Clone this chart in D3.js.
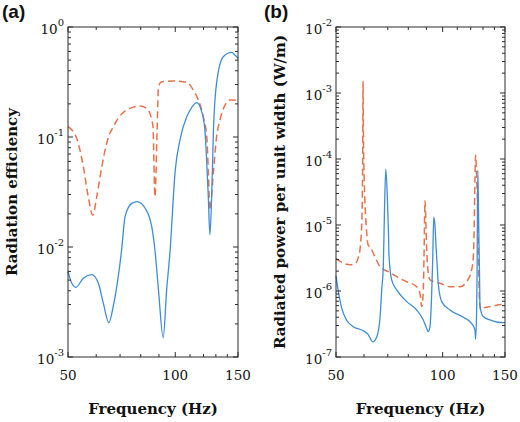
<!DOCTYPE html>
<html><head><meta charset="utf-8">
<script src="https://cdn.jsdelivr.net/npm/d3@7"></script>
<style>body{margin:0;background:#fff}</style>
</head><body>
<svg id="chart" width="520" height="422"></svg>
<script>
// ---- Data ----
const xTicks = [50, 100, 150];
const xMinor = [60, 70, 80, 90, 110, 120, 130, 140];

// Panel (a): radiation efficiency
const effSolidF = [50,51.2,52.6,55.2,58.3,60.8,62.8,65.1,67.0,69.2,70.7,72.3,75.5,78.2,82.3,85.9,87.7,89.7,92.5,94.6,96.6,100,103.1,107.7,110,114.8,118.6,121.1,122.6,123.8,125.1,126.5,127.3,127.9,130.6,136.4,144,147,150];
const effSolidV = [0.006,0.0047,0.0043,0.0052,0.0056,0.0047,0.0031,0.00205,0.0029,0.0054,0.0094,0.0189,0.0249,0.0258,0.0225,0.0153,0.0094,0.0041,0.0015,0.0041,0.0088,0.05,0.094,0.153,0.175,0.205,0.17,0.116,0.0577,0.0286,0.0129,0.0286,0.0577,0.108,0.308,0.537,0.589,0.556,0.52];
const effDashF = [50,52.9,55.2,57.0,58.7,60.2,62.2,64.2,67.8,73.0,79.6,83.2,85.9,86.6,87.7,88.9,89.7,91.6,98.7,105.3,108.8,112.4,116.1,119.9,122.6,123.8,125.1,127.9,130.6,133.5,137.9,142.4,150];
const effDashV = [0.124,0.097,0.054,0.0286,0.0195,0.0286,0.0537,0.0877,0.133,0.176,0.191,0.182,0.143,0.124,0.0286,0.109,0.286,0.318,0.323,0.318,0.308,0.267,0.217,0.153,0.1,0.05,0.0217,0.047,0.1,0.143,0.195,0.217,0.215];
const effTicks = [1e-3, 1e-2, 1e-1, 1];

// Panel (b): radiated power per unit width
const powSolidF = [50,50.75,51.9,53.6,55.8,59.7,61.6,63.5,65.2,66.6,67.3,68.0,68.5,69.1,69.8,70.3,70.6,71.8,74.2,79.2,84.5,88.2,90.1,91.1,92.1,93.2,93.8,94.4,95.2,95.8,96.5,97.2,99.4,104.9,114.4,120.7,123.4,123.9,124.8,125.1,125.7,126.3,126.7,127.1,127.5,130.2,136,142.1,150];
const powSolidV = [1.7e-6,1.0e-6,5.5e-7,3.6e-7,2.9e-7,2.5e-7,2.2e-7,1.7e-7,2.03e-7,4.1e-7,1.04e-6,2.33e-6,1.5e-5,7e-5,2.7e-5,8.4e-6,3.3e-6,1.47e-6,1.04e-6,6.9e-7,5.15e-7,3.64e-7,2.72e-7,2.42e-7,2.88e-7,1.04e-6,3.3e-6,1.31e-5,9.4e-6,4.7e-6,2.5e-6,1.3e-6,6.9e-7,5.15e-7,4.0e-7,3.24e-7,2.57e-7,1.87e-7,5.8e-7,1.85e-6,6.8e-5,1.5e-5,4.7e-6,1.85e-6,5.8e-7,4.1e-7,3.64e-7,3.39e-7,3.31e-7];
const powDashF = [50,52.4,54.8,56.6,57.8,58.5,59.1,59.35,59.5,59.6,59.75,60.0,60.3,60.9,61.6,62.3,64.4,66.6,70.3,74.2,79.2,84.5,86.3,87.3,88.2,88.6,89.2,89.7,90.1,91.1,92.1,98.3,104.9,112.0,116.9,120.7,122.1,122.8,123.4,123.9,124.8,125.5,126.1,126.7,127.5,128.2,130.2,136,142.1,150];
const powDashV = [3.1e-6,2.65e-6,2.5e-6,2.6e-6,3.2e-6,4.5e-6,1.0e-5,3e-5,1.5e-4,1.5e-3,2.5e-4,6e-5,2.5e-5,9e-6,5e-6,4.7e-6,3.3e-6,2.33e-6,1.96e-6,1.65e-6,1.38e-6,1.16e-6,9.2e-7,5.8e-7,1.04e-6,3.3e-6,2.33e-5,1.06e-5,4.7e-6,1.85e-6,1.47e-6,1.31e-6,1.16e-6,1.16e-6,1.38e-6,2.08e-6,3.3e-6,1e-5,4.8e-5,1.15e-4,4.8e-5,2e-5,5e-6,1.2e-6,6e-7,5.15e-7,5.5e-7,5.8e-7,6.1e-7,6.3e-7];
const powTicks = [1e-7, 1e-6, 1e-5, 1e-4, 1e-3, 1e-2];

const svg = d3.select("#chart");
const BLUE = "#3f8dd6", RED = "#e8714c", AXIS = "#2b2b2b";
const serif = "'DejaVu Serif', serif";

function panel(opt) {
  const g = svg.append("g");
  const x = d3.scaleLog().domain([50, 150]).range([opt.x0, opt.x1]);
  const y = d3.scaleLog().domain(opt.ydom).range([opt.y1, opt.y0]);

  // curves
  const line = d3.line().x(d => x(d[0])).y(d => y(d[1])).curve(d3.curveMonotoneX);
  g.append("path").datum(d3.zip(opt.dashF, opt.dashV)).attr("d", line)
    .attr("fill", "none").attr("stroke", RED).attr("stroke-width", 1.5)
    .attr("stroke-dasharray", "7,4");
  g.append("path").datum(d3.zip(opt.solidF, opt.solidV)).attr("d", line)
    .attr("fill", "none").attr("stroke", BLUE).attr("stroke-width", 1.3);

  // frame
  g.append("rect").attr("x", opt.x0).attr("y", opt.y0)
    .attr("width", opt.x1 - opt.x0).attr("height", opt.y1 - opt.y0)
    .attr("fill", "none").attr("stroke", AXIS).attr("stroke-width", 1);

  // x ticks (bottom & top, inward)
  const tk = (x1, y1, x2, y2) => g.append("line").attr("x1", x1).attr("y1", y1)
    .attr("x2", x2).attr("y2", y2).attr("stroke", AXIS).attr("stroke-width", 1);
  xTicks.forEach(v => { const px = x(v); tk(px, opt.y1, px, opt.y1 - 5); tk(px, opt.y0, px, opt.y0 + 5); });
  xMinor.forEach(v => { const px = x(v); tk(px, opt.y1, px, opt.y1 - 3); tk(px, opt.y0, px, opt.y0 + 3); });
  xTicks.forEach(v => {
    g.append("text").attr("x", x(v)).attr("y", opt.y1 + 23).attr("text-anchor", "middle")
      .attr("font-family", serif).attr("font-size", 13.5).attr("fill", "#111").text(v);
  });

  // y ticks
  const majors = opt.yticks;
  majors.forEach((v, i) => {
    const py = y(v);
    tk(opt.x0, py, opt.x0 + 5, py); tk(opt.x1, py, opt.x1 - 5, py);
    if (i < majors.length - 1) {
      for (let m = 2; m <= 9; m++) {
        const pm = y(v * m);
        tk(opt.x0, pm, opt.x0 + 3, pm); tk(opt.x1, pm, opt.x1 - 3, pm);
      }
    }
    const e = Math.round(Math.log10(v));
    const t = g.append("text").attr("x", opt.x0 - 4).attr("y", py + 7)
      .attr("text-anchor", "end").attr("font-family", serif).attr("fill", "#111");
    t.append("tspan").attr("font-size", 13.5).text("10");
    t.append("tspan").attr("font-size", 10).attr("dy", -8).text(e === 0 ? "0" : "-" + Math.abs(e));
  });

  // axis titles
  g.append("text").attr("x", (opt.x0 + opt.x1) / 2).attr("y", 414).attr("text-anchor", "middle")
    .attr("font-family", serif).attr("font-weight", "bold").attr("font-size", 15)
    .attr("fill", "#111").text("Frequency (Hz)");
  g.append("text").attr("transform", `translate(${opt.ylabX},${(opt.y0 + opt.y1) / 2}) rotate(-90)`)
    .attr("text-anchor", "middle").attr("font-family", serif).attr("font-weight", "bold")
    .attr("font-size", 15).attr("fill", "#111").text(opt.ylabel);
  g.append("text").attr("x", opt.tagX).attr("y", 18)
    .attr("font-family", "'Liberation Sans', Arial, sans-serif").attr("font-weight", "bold")
    .attr("font-size", 19).attr("fill", "#111").text(opt.tag);
}

panel({x0: 68, x1: 238, y0: 27, y1: 357, ydom: [1e-3, 1], yticks: effTicks,
  solidF: effSolidF, solidV: effSolidV, dashF: effDashF, dashV: effDashV,
  ylabel: "Radiation efficiency", ylabX: 17, tag: "(a)", tagX: 2});
panel({x0: 336, x1: 505, y0: 27, y1: 357, ydom: [1e-7, 1e-2], yticks: powTicks,
  solidF: powSolidF, solidV: powSolidV, dashF: powDashF, dashV: powDashV,
  ylabel: "Radiated power per unit width (W/m)", ylabX: 285, tag: "(b)", tagX: 264});
</script>
</body></html>
